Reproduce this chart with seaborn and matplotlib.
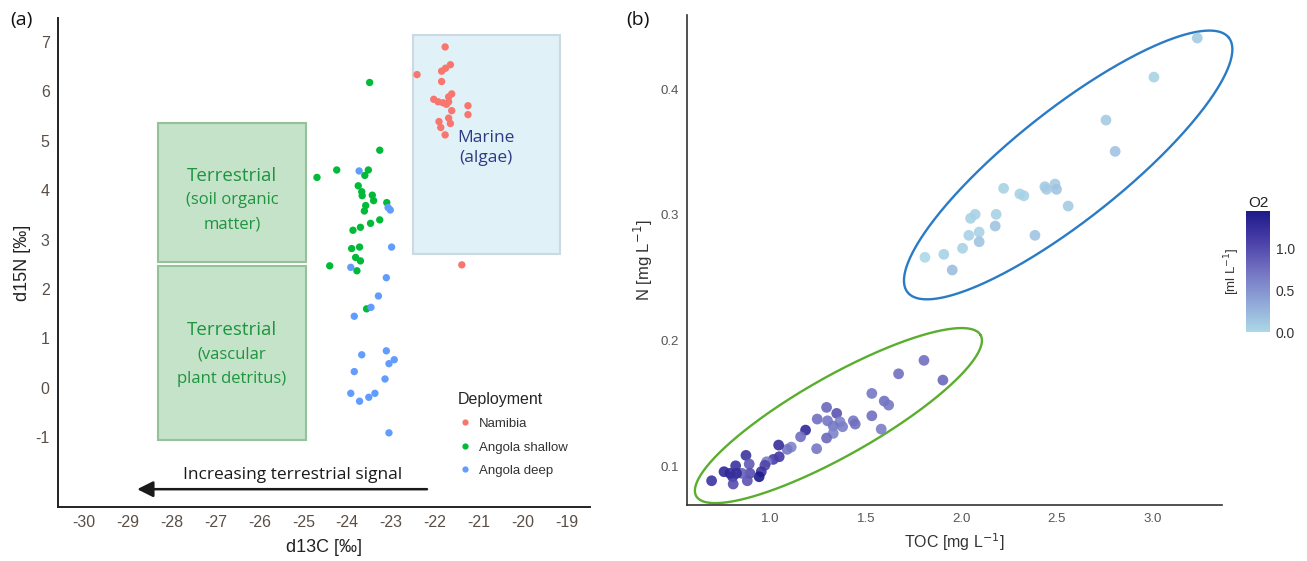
import numpy as np
import pandas as pd
import matplotlib
matplotlib.use("Agg")
import matplotlib.pyplot as plt
import seaborn as sns
from matplotlib.colors import LinearSegmentedColormap, Normalize
from matplotlib.cm import ScalarMappable
from matplotlib.patches import Rectangle

# ---- panel (a): isotopes per deployment ----
namibia_d13c = [-21.77, -21.65, -21.76, -21.85, -22.41, -21.85, -21.62, -21.69, -22.03, -21.93, -21.82,
                -21.74, -21.69, -21.62, -21.25, -21.25, -21.69, -21.65, -21.91, -21.87, -21.77, -21.39]
namibia_d15n = [6.90, 6.54, 6.47, 6.41, 6.34, 6.20, 5.95, 5.89, 5.84, 5.79, 5.77,
                5.74, 5.79, 5.61, 5.71, 5.53, 5.46, 5.35, 5.39, 5.27, 5.12, 2.49]

shallow_d13c = [-23.49, -23.26, -24.24, -24.69, -23.52, -23.60, -23.75, -23.67, -23.66, -23.43, -23.40, -23.10, -23.58,
                -23.61, -23.26, -23.47, -23.70, -23.87, -23.72, -23.90, -23.81, -23.70, -24.40, -23.78, -23.56]
shallow_d15n = [6.18, 4.81, 4.41, 4.26, 4.41, 4.30, 4.09, 3.97, 3.89, 3.90, 3.79, 3.75, 3.69,
                3.58, 3.40, 3.33, 3.25, 3.19, 2.85, 2.82, 2.64, 2.57, 2.47, 2.37, 1.60]

deep_d13c = [-23.73, -23.07, -23.02, -22.99, -23.92, -23.11, -23.29, -23.46, -23.84, -23.11, -23.67,
             -22.93, -23.05, -23.84, -23.14, -23.92, -23.37, -23.51, -23.72, -23.05]
deep_d15n = [4.39, 3.65, 3.60, 2.85, 2.44, 2.23, 1.86, 1.63, 1.45, 0.75, 0.67,
             0.57, 0.49, 0.33, 0.18, -0.11, -0.11, -0.19, -0.27, -0.91]

deployments = ["Namibia", "Angola shallow", "Angola deep"]
deploy_colors = ["#f8766d", "#00ba38", "#619cff"]

# source boxes: (x0, x1, y0, y1)
box_soil = (-28.31, -24.94, 2.55, 5.36)
box_vascular = (-28.31, -24.94, -1.06, 2.47)
box_marine = (-22.51, -19.16, 2.71, 7.14)

# ---- panel (b): TOC vs N coloured by O2 ----
upper_toc = [3.235, 3.008, 2.757, 2.805, 2.221, 2.437, 2.446, 2.490, 2.498, 2.306, 2.327, 2.559,
             2.072, 2.048, 2.182, 2.177, 2.093, 2.039, 2.093, 2.385, 2.006, 1.908, 1.809, 1.952]
upper_n = [0.4406, 0.4095, 0.3753, 0.3504, 0.3210, 0.3223, 0.3202, 0.3244, 0.3202, 0.3165, 0.3151, 0.3069,
           0.3003, 0.2971, 0.3003, 0.2910, 0.2862, 0.2836, 0.2785, 0.2836, 0.2733, 0.2685, 0.2661, 0.2560]
upper_o2 = [0.10, 0.05, 0.10, 0.15, 0.05, 0.10, 0.10, 0.10, 0.15, 0.05, 0.05, 0.10,
            0.05, 0.05, 0.05, 0.15, 0.05, 0.05, 0.15, 0.15, 0.05, 0.05, 0.0, 0.20]

lower_toc = [1.804, 1.903, 1.671, 1.531, 1.596, 1.619, 1.531, 1.580, 1.434, 1.444, 1.294, 1.347, 1.245,
             1.299, 1.364, 1.378, 1.329, 1.329, 1.294, 1.242, 1.184, 1.158, 1.109, 1.088, 1.043, 1.046,
             1.015, 0.980, 0.971, 0.952, 0.941, 0.872, 0.889, 0.893, 0.879, 0.851, 0.818, 0.823, 0.802,
             0.805, 0.788, 0.757, 0.692]
lower_n = [0.1841, 0.1684, 0.1734, 0.1578, 0.1517, 0.1485, 0.1400, 0.1294, 0.1360, 0.1334, 0.1467, 0.1419, 0.1374,
           0.1360, 0.1352, 0.1313, 0.1318, 0.1260, 0.1223, 0.1138, 0.1286, 0.1233, 0.1151, 0.1133, 0.1167, 0.1074,
           0.1053, 0.1034, 0.1006, 0.0955, 0.0915, 0.1085, 0.1016, 0.0942, 0.0883, 0.0942, 0.1002, 0.0942, 0.0915,
           0.0857, 0.0942, 0.0955, 0.0883]
lower_o2 = [0.75, 0.80, 0.75, 0.70, 0.75, 0.70, 0.75, 0.65, 0.70, 0.75, 0.80, 0.95, 0.75,
            0.70, 0.60, 0.65, 0.70, 0.60, 0.80, 0.70, 1.30, 0.75, 0.60, 0.70, 1.25, 1.15,
            1.10, 0.65, 1.05, 1.20, 1.45, 1.20, 0.90, 1.00, 0.95, 0.85, 1.20, 1.25, 1.20,
            1.00, 1.25, 1.30, 1.20]

# hand drawn group outlines: two tips of the long axis (data units) and width ratio
outline_namibia = ((1.718, 0.2383), (3.400, 0.4409), 0.268)
outline_angola = ((0.6115, 0.0761), (2.1005, 0.2042), 0.242)

sns.set_theme(style="white")
plt.rcParams['font.family'] = ['Liberation Sans', 'DejaVu Sans']
plt.rcParams['axes.unicode_minus'] = False

fig = plt.figure(figsize=(13.07, 5.61), dpi=100)
ax_a = fig.add_axes([0.0444, 0.0963, 0.407, 0.872])
ax_b = fig.add_axes([0.5256, 0.0998, 0.4093, 0.8734])
ax_cb = fig.add_axes([1246 / 1307, (561 - 332) / 561, 24 / 1307, 121 / 561])

# ---------------- panel (a) ----------------
df_a = pd.DataFrame({
    "d13C": namibia_d13c + shallow_d13c + deep_d13c,
    "d15N": namibia_d15n + shallow_d15n + deep_d15n,
    "Deployment": (["Namibia"] * len(namibia_d13c) + ["Angola shallow"] * len(shallow_d13c)
                   + ["Angola deep"] * len(deep_d13c)),
})

green_txt = "#1f9440"
for (x0, x1, y0, y1) in [box_soil, box_vascular]:
    ax_a.add_patch(Rectangle((x0, y0), x1 - x0, y1 - y0, facecolor="#c4e3c8",
                             edgecolor="#95c29d", lw=1.5, zorder=1))
x0, x1, y0, y1 = box_marine
ax_a.add_patch(Rectangle((x0, y0), x1 - x0, y1 - y0, facecolor="#e1f1f8",
                         edgecolor="#cbd9e2", lw=1.5, zorder=1))

sns.scatterplot(data=df_a, x="d13C", y="d15N", hue="Deployment", hue_order=deployments,
                palette=deploy_colors, s=28, linewidth=0, ax=ax_a, zorder=3, legend=False)

cx = (box_soil[0] + box_soil[1]) / 2
ax_a.text(cx, 4.29, "Terrestrial", ha="center", va="center", fontsize=13.5, color=green_txt, family="Open Sans")
ax_a.text(cx, 3.80, "(soil organic", ha="center", va="center", fontsize=12, color=green_txt, family="Open Sans")
ax_a.text(cx, 3.31, "matter)", ha="center", va="center", fontsize=12, color=green_txt, family="Open Sans")
ax_a.text(cx, 1.17, "Terrestrial", ha="center", va="center", fontsize=13.5, color=green_txt, family="Open Sans")
ax_a.text(cx, 0.68, "(vascular", ha="center", va="center", fontsize=12, color=green_txt, family="Open Sans")
ax_a.text(cx, 0.19, "plant detritus)", ha="center", va="center", fontsize=12, color=green_txt, family="Open Sans")
ax_a.text(-20.84, 5.06, "Marine", ha="center", va="center", fontsize=12.5, color="#2e3a87", family="Open Sans")
ax_a.text(-20.84, 4.65, "(algae)", ha="center", va="center", fontsize=12.5, color="#2e3a87", family="Open Sans")

ax_a.annotate("", xy=(-28.85, -2.05), xytext=(-22.12, -2.05),
              arrowprops=dict(arrowstyle="-|>", color="#1a1a1a", lw=1.8, mutation_scale=24))
ax_a.text(-25.24, -1.77, "Increasing terrestrial signal", ha="center", va="center",
          fontsize=12.5, color="#1a1a1a", family="Open Sans")

ax_a.set_xlim(-30.59, -18.47)
ax_a.set_ylim(-2.41, 7.49)
ax_a.set_xticks(np.arange(-30, -18, 1))
ax_a.set_yticks(np.arange(-1, 8, 1))
ax_a.tick_params(length=0, labelsize=11.5, labelcolor="#5a4f47", pad=6)
for lab in ax_a.get_xticklabels() + ax_a.get_yticklabels():
    lab.set_family(['Liberation Sans Narrow', 'Liberation Sans'])
ax_a.set_xlabel("d13C [‰]", fontsize=13, color="#222222", labelpad=6)
ax_a.set_ylabel("d15N [‰]", fontsize=13, color="#222222", labelpad=3)
sns.despine(ax=ax_a)
for sp in ["left", "bottom"]:
    ax_a.spines[sp].set_color("#222222")
    ax_a.spines[sp].set_linewidth(1.4)

handles = [plt.Line2D([], [], ls="", marker="o", ms=4.5, mfc=c, mec="none") for c in deploy_colors]
leg = ax_a.legend(handles, deployments, title="Deployment", loc="upper left",
                  bbox_to_anchor=(0.73, 0.26), frameon=False, fontsize=9.5,
                  title_fontsize=11.5, labelspacing=0.85, handletextpad=0.6, handlelength=1.0)
leg._legend_box.align = "left"
for t in leg.get_texts():
    t.set_color("#333333")

fig.text(0.008, 0.965, "(a)", fontsize=14, color="#111111", family="Open Sans", va="center")
fig.text(0.479, 0.965, "(b)", fontsize=14, color="#111111", family="Open Sans", va="center")

# ---------------- panel (b) ----------------
df_b = pd.DataFrame({
    "TOC": upper_toc + lower_toc,
    "N": upper_n + lower_n,
    "O2": upper_o2 + lower_o2,
})
o2_cmap = LinearSegmentedColormap.from_list(
    "o2", ["#acd8e7", "#8fa6d8", "#7473c2", "#4b3fa8", "#1c1a8a"])
o2_norm = Normalize(vmin=df_b["O2"].min(), vmax=df_b["O2"].max())

sns.scatterplot(data=df_b, x="TOC", y="N", hue="O2", palette=o2_cmap, hue_norm=o2_norm,
                s=60, linewidth=0, alpha=0.9, ax=ax_b, legend=False, zorder=3)

ax_b.set_xlim(0.563, 3.364)
ax_b.set_ylim(0.069, 0.4589)

# outlines drawn in screen space so they keep their drawn shape
theta = np.linspace(0, 2 * np.pi, 400)
for (tip1, tip2, ratio), col in [(outline_namibia, "#2a7bc6"), (outline_angola, "#5aae2e")]:
    p1 = ax_b.transData.transform(tip1)
    p2 = ax_b.transData.transform(tip2)
    centre = (p1 + p2) / 2
    half = np.linalg.norm(p2 - p1) / 2
    u = (p2 - p1) / (2 * half)
    v = np.array([-u[1], u[0]])
    pts = (centre[None, :] + np.outer(half * np.cos(theta), u)
           + np.outer(ratio * half * np.sin(theta), v))
    dat = ax_b.transData.inverted().transform(pts)
    ax_b.plot(dat[:, 0], dat[:, 1], color=col, lw=1.7, zorder=2, clip_on=False)

ax_b.set_xticks([1.0, 1.5, 2.0, 2.5, 3.0])
ax_b.set_yticks([0.1, 0.2, 0.3, 0.4])
ax_b.tick_params(length=0, labelsize=9.5, labelcolor="#555555", pad=6)
ax_b.set_xlabel("TOC [mg L$^{-1}$]", fontsize=11.5, color="#333333", labelpad=4)
ax_b.set_ylabel("N [mg L$^{-1}$]", fontsize=12, color="#333333", labelpad=4)
sns.despine(ax=ax_b)
for sp in ["left", "bottom"]:
    ax_b.spines[sp].set_color("#333333")
    ax_b.spines[sp].set_linewidth(1.2)

sm = ScalarMappable(norm=o2_norm, cmap=o2_cmap)
cb = fig.colorbar(sm, cax=ax_cb, ticks=[0.0, 0.5, 1.0])
cb.outline.set_visible(False)
cb.ax.tick_params(length=4, width=1, color="white", direction="in", labelsize=10,
                  labelcolor="#333333", pad=4)
cb.ax.set_yticklabels(["0.0", "0.5", "1.0"])
cb.ax.set_title("O2", fontsize=11, color="#222222", pad=3)
cb.ax.yaxis.set_label_position("left")
cb.ax.set_ylabel("[ml L$^{-1}$]", fontsize=9.5, color="#333333", labelpad=3)

fig.savefig("out.png", dpi=100, facecolor="white")
